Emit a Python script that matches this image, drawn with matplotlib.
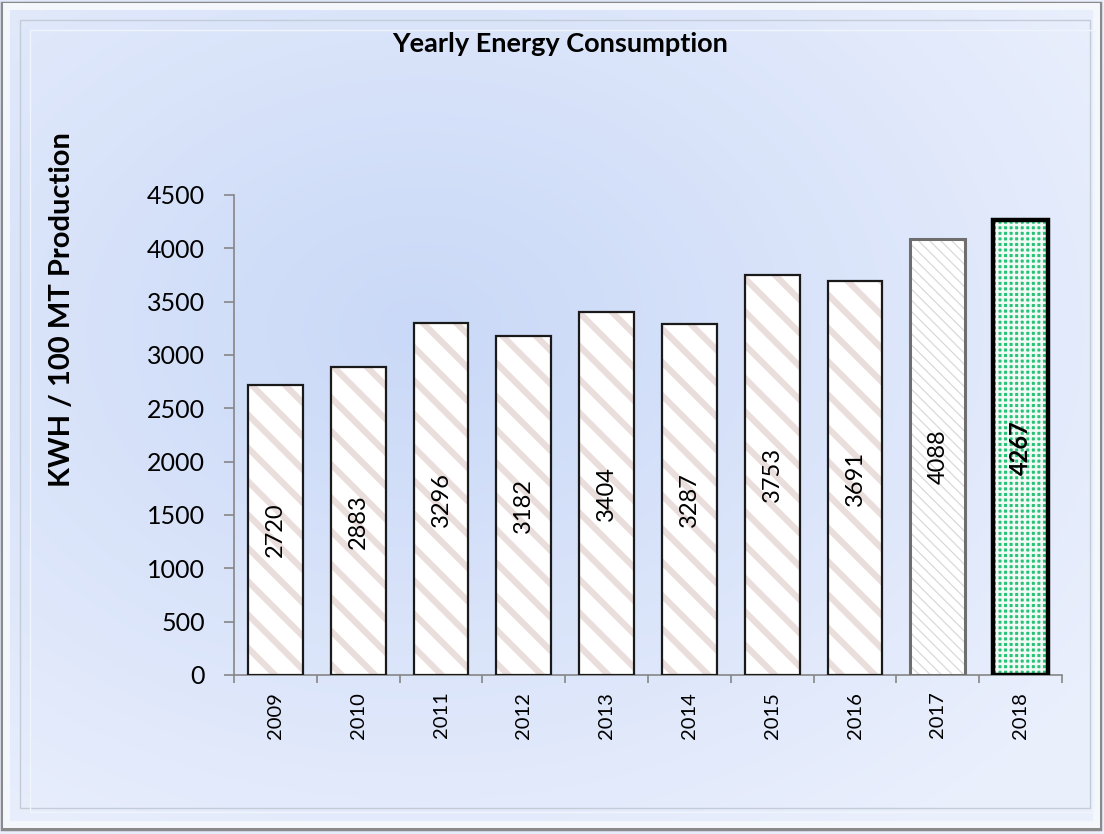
import numpy as np
import matplotlib.pyplot as plt
from matplotlib.patches import Rectangle

years = ["2009", "2010", "2011", "2012", "2013", "2014", "2015", "2016", "2017", "2018"]
kwh = [2720, 2883, 3296, 3182, 3404, 3287, 3753, 3691, 4088, 4267]
yticks = [0, 500, 1000, 1500, 2000, 2500, 3000, 3500, 4000, 4500]

plt.rcParams["font.family"] = ["Lato", "DejaVu Sans"]

W, H = 1104, 834
fig = plt.figure(figsize=(W / 100, H / 100), dpi=100)

# background gradient + bevel frame
bg = fig.add_axes([0, 0, 1, 1])
bg.set_axis_off()
yy, xx = np.mgrid[0:H, 0:W]
d = np.sqrt(((xx - 420) / W) ** 2 + ((yy - 330) / H) ** 2)
t = np.clip(d / 0.75, 0, 1)[..., None]
c_in = np.array([0.79, 0.85, 0.97])
c_out = np.array([0.92, 0.94, 0.99])
img = c_in * (1 - t) + c_out * t
bg.imshow(img, extent=[0, W, H, 0], aspect="auto")
bg.set_xlim(0, W)
bg.set_ylim(H, 0)
bg.add_patch(Rectangle((2, 3), W - 6, H - 8, fill=False, ec="#8a8a8a", lw=2.5))
bg.add_patch(Rectangle((6, 6), W - 14, H - 16, fill=False, ec="#f4f7fc", lw=5))
bg.add_patch(Rectangle((20, 20), W - 34, H - 46, fill=False, ec="#c4ccd8", lw=1))
bg.add_patch(Rectangle((30, 30), W - 40, H - 52, fill=False, ec="#f0f4fb", lw=1))

ax = fig.add_axes([234 / W, 1 - 675 / H, (1062 - 234) / W, 480 / H])
ax.patch.set_alpha(0)

x = np.arange(len(years))
bw = 0.66
for i, v in enumerate(kwh):
    if i < 8:
        fc, hc, hatch, ec, lw, hlw = "white", "#e9dedc", "\\", "#1a1a1a", 1.6, 4.5
    elif i == 8:
        fc, hc, hatch, ec, lw, hlw = "white", "#d9d9d9", "\\\\\\", "#6e6e6e", 2.2, 0.9
    else:
        fc, hc, hatch, ec, lw, hlw = "#27c277", "#f2faf5", "+++", "black", 3.2, 1.8
    with plt.rc_context({"hatch.linewidth": hlw}):
        b = ax.bar(x[i], v, bw, color=fc, edgecolor=hc, hatch=hatch, lw=0, zorder=2)
    p = b.patches[0]
    if hasattr(p, "set_hatch_linewidth"):
        p.set_hatch_linewidth(hlw)
    ax.bar(x[i], v, bw, fill=False, edgecolor=ec, lw=lw, zorder=3)
    ax.text(x[i], v / 2, str(v), rotation=90, ha="center", va="center",
            fontsize=17, fontweight="bold" if i == 9 else "normal", zorder=4)

ax.set_xlim(-0.5, len(years) - 0.5)
ax.set_ylim(0, 4500)
ax.set_yticks(yticks)
ax.set_yticklabels([str(v) for v in yticks], fontsize=18)
ax.set_xticks(np.arange(-0.5, len(years), 1.0))
ax.set_xticklabels([])
ax.set_xticks(x, minor=True)
ax.set_xticklabels(years, minor=True, rotation=90, fontsize=14.5)
ax.tick_params(axis="x", which="minor", length=0, pad=12)
ax.tick_params(axis="x", which="major", length=6, color="#868686", width=1.2)
ax.tick_params(axis="y", length=7, color="#868686", width=1.2, pad=14)
for s in ["top", "right"]:
    ax.spines[s].set_visible(False)
for s in ["left", "bottom"]:
    ax.spines[s].set_color("#868686")
    ax.spines[s].set_linewidth(1.2)

fig.text(560 / W, 1 - 44 / H, "Yearly Energy Consumption", ha="center", va="center",
         fontsize=19.5, fontweight="bold")
fig.text(62 / W, 1 - 310 / H, "KWH / 100 MT Production", ha="center", va="center",
         rotation=90, fontsize=21, fontweight="bold")

fig.savefig("out.png", dpi=100)
